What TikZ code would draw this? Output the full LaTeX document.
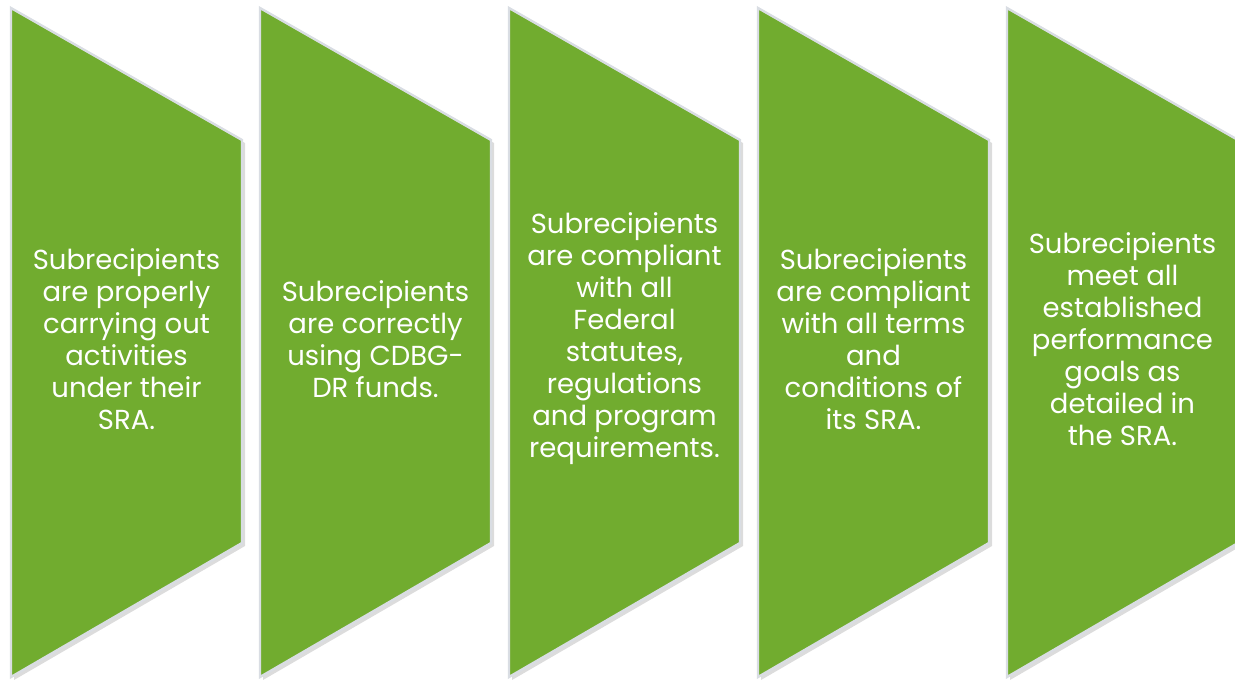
\documentclass[tikz,border=0pt]{standalone}
\usepackage{fontspec}
\setmainfont{Poppins}
\usepackage{tikz}
\usetikzlibrary{positioning, calc}
\definecolor{mGreen}{HTML}{71AC2F}
\definecolor{mEdge}{HTML}{D9DDE3}
\definecolor{mShade}{HTML}{9A9A9A}

\begin{document}
\begin{tikzpicture}[x=1pt, y=-1pt,
  panel/.style={fill=mGreen, draw=mEdge, line width=2.4pt, line join=miter},
  shade/.style={fill=mShade, opacity=0.35},
  caption/.style={font=\fontsize{27.5}{32}\selectfont, text=white, align=center, inner sep=0pt},
]
  \useasboundingbox (0,0) rectangle (1235,683);
  % panels, left to right
  \foreach \px in {11, 260, 509, 758, 1007} {
    \fill[shade] (\px+3,11) -- (\px+234,143) -- (\px+234,546) -- (\px+3,680) -- cycle;
    \draw[panel] (\px,8) -- (\px+231,140) -- (\px+231,543) -- (\px,677) -- cycle;
  }
  \node[caption] (act) at (126.5,339)
    {Subrecipients\\are properly\\carrying out\\activities\\under their\\SRA.};
  \node[caption] (funds) at (375.5,339)
    {Subrecipients\\are correctly\\using CDBG-\\DR funds.};
  \node[caption] (fed) at (624.5,339)
    {Subrecipients\\are compliant\\with all\\Federal\\statutes,\\regulations\\and program\\requirements.};
  \node[caption] (terms) at (873.5,339)
    {Subrecipients\\are compliant\\with all terms\\and\\conditions of\\its SRA.};
  \node[caption] (goals) at (1122.5,339)
    {Subrecipients\\meet all\\established\\performance\\goals as\\detailed in\\the SRA.};
\end{tikzpicture}
\end{document}
